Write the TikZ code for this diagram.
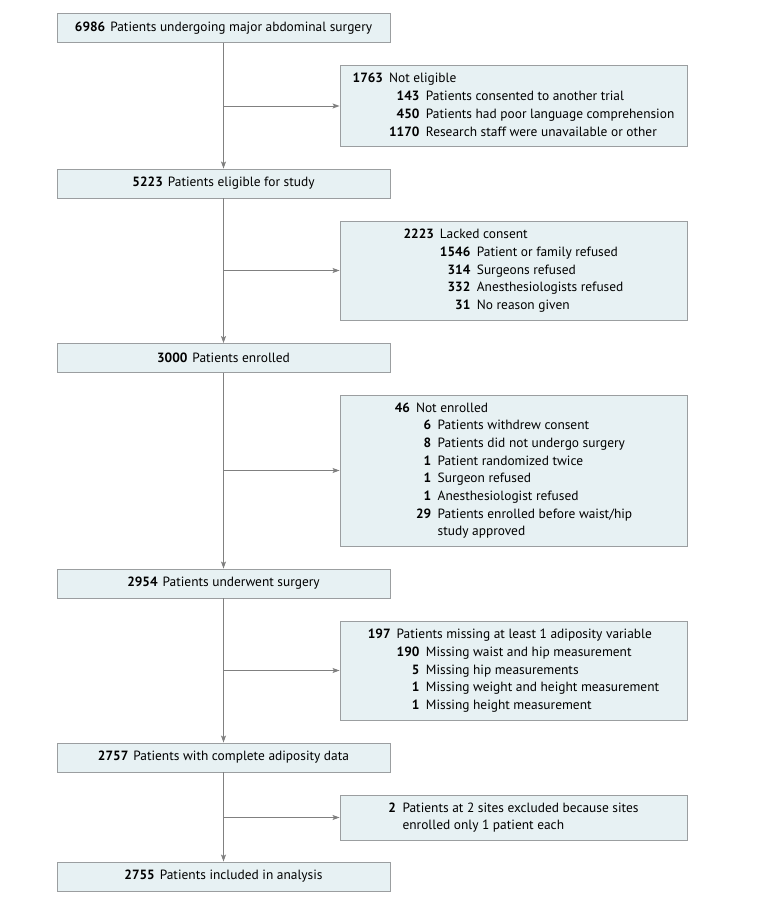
\documentclass[tikz,border=0pt]{standalone}
\usepackage{fontspec}
\setmainfont{PT Sans}
\usetikzlibrary{arrows.meta}
\definecolor{boxfill}{RGB}{231,241,243}
\definecolor{boxline}{RGB}{155,158,160}
\definecolor{conn}{RGB}{128,128,128}
\newcommand{\nb}[1]{\textbf{#1}}
\begin{document}
\begin{tikzpicture}[x=1pt,y=-1pt,
  mainbox/.style={draw=boxline, fill=boxfill, line width=0.9pt, minimum width=333pt, minimum height=29pt, inner sep=0pt, align=center, font=\fontsize{13.4}{17.7}\selectfont},
  sidebox/.style={draw=boxline, fill=boxfill, line width=0.9pt, minimum width=347pt, inner sep=0pt, font=\fontsize{13.4}{17.7}\selectfont},
  flow/.style={draw=conn, line width=0.9pt},
  arr/.style={flow, -{Stealth[length=7pt,width=5pt,inset=1.5pt]}}
]
\useasboundingbox (0,0) rectangle (780,904);

% main column
\node[mainbox] (b1) at (223.5,28) {\nb{6986}\hspace{5pt}Patients undergoing major abdominal surgery};
\node[mainbox] (b2) at (223.5,183.5) {\nb{5223}\hspace{5pt}Patients eligible for study};
\node[mainbox] (b3) at (223.5,358) {\nb{3000}\hspace{5pt}Patients enrolled};
\node[mainbox] (b4) at (223.5,583.5) {\nb{2954}\hspace{5pt}Patients underwent surgery};
\node[mainbox] (b5) at (223.5,757.5) {\nb{2757}\hspace{5pt}Patients with complete adiposity data};
\node[mainbox] (b6) at (223.5,876.5) {\nb{2755}\hspace{5pt}Patients included in analysis};

% side boxes
\node[sidebox, minimum height=81pt] (s1) at (513.5,106) {%
\begin{tabular}{@{}r@{\hspace{6pt}}r@{\hspace{6.5pt}}l@{}}
\nb{1763} & \multicolumn{2}{@{}l@{}}{Not eligible}\\
 & \nb{143} & Patients consented to another trial\\
 & \nb{450} & Patients had poor language comprehension\\
 & \nb{1170} & Research staff were unavailable or other
\end{tabular}};

\node[sidebox, minimum height=99pt] (s2) at (513.5,270.5) {%
\begin{tabular}{@{}r@{\hspace{6pt}}r@{\hspace{6.5pt}}l@{}}
\nb{2223} & \multicolumn{2}{@{}l@{}}{Lacked consent}\\
 & \nb{1546} & Patient or family refused\\
 & \nb{314} & Surgeons refused\\
 & \nb{332} & Anesthesiologists refused\\
 & \nb{31} & No reason given
\end{tabular}};

\node[sidebox, minimum height=151pt] (s3) at (513.5,470.5) {%
\begin{tabular}{@{}r@{\hspace{6pt}}r@{\hspace{6.5pt}}l@{}}
\nb{46} & \multicolumn{2}{@{}l@{}}{Not enrolled}\\
 & \nb{6} & Patients withdrew consent\\
 & \nb{8} & Patients did not undergo surgery\\
 & \nb{1} & Patient randomized twice\\
 & \nb{1} & Surgeon refused\\
 & \nb{1} & Anesthesiologist refused\\
 & \nb{29} & Patients enrolled before waist/hip\\
 & & study approved
\end{tabular}};

\node[sidebox, minimum height=99pt] (s4) at (513.5,670.5) {%
\begin{tabular}{@{}r@{\hspace{6pt}}r@{\hspace{6.5pt}}l@{}}
\nb{197} & \multicolumn{2}{@{}l@{}}{Patients missing at least 1 adiposity variable}\\
 & \nb{190} & Missing waist and hip measurement\\
 & \nb{5} & Missing hip measurements\\
 & \nb{1} & Missing weight and height measurement\\
 & \nb{1} & Missing height measurement
\end{tabular}};

\node[sidebox, minimum height=45pt] (s5) at (513.5,817.5) {%
\begin{tabular}{@{}r@{\hspace{6.5pt}}l@{}}
\nb{2} & Patients at 2 sites excluded because sites\\
 & enrolled only 1 patient each
\end{tabular}};

% junctions
\coordinate (j1) at (b1.south |- s1.west);
\coordinate (j2) at (b2.south |- s2.west);
\coordinate (j3) at (b3.south |- s3.west);
\coordinate (j4) at (b4.south |- s4.west);
\coordinate (j5) at (b5.south |- s5.west);

% connectors
\draw[arr] (b1.south) -- (b2.north);
\draw[arr] (b2.south) -- (b3.north);
\draw[arr] (b3.south) -- (b4.north);
\draw[arr] (b4.south) -- (b5.north);
\draw[arr] (b5.south) -- (b6.north);
\draw[arr] (j1) -- (s1.west);
\draw[arr] (j2) -- (s2.west);
\draw[arr] (j3) -- (s3.west);
\draw[arr] (j4) -- (s4.west);
\draw[arr] (j5) -- (s5.west);
\end{tikzpicture}
\end{document}
